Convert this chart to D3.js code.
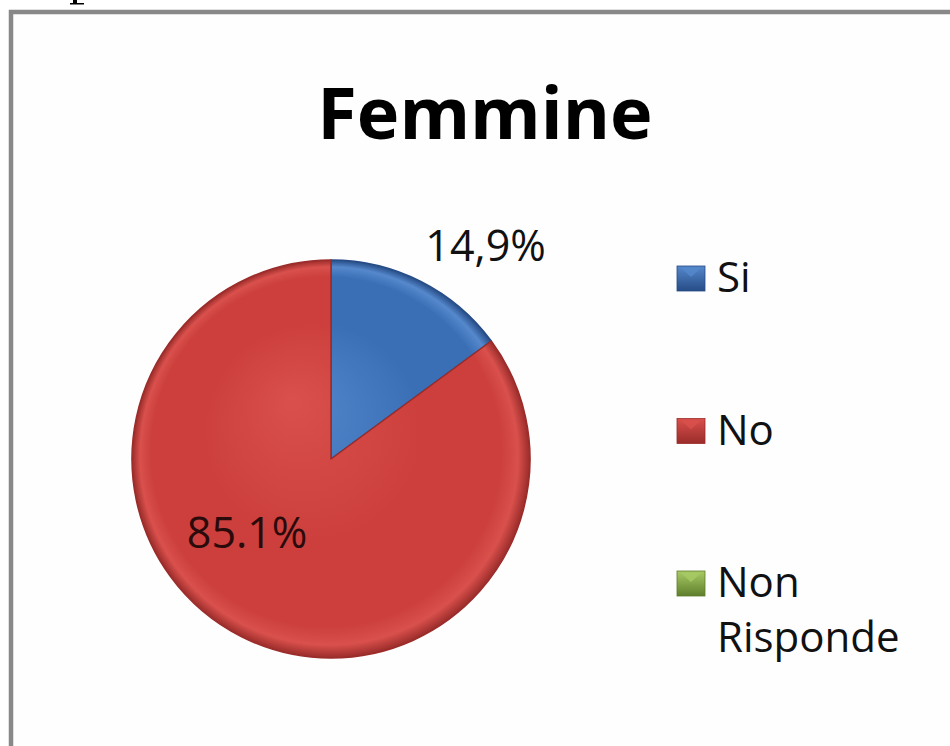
<!DOCTYPE html>
<html><head><meta charset="utf-8">
<script src="https://cdn.jsdelivr.net/npm/d3@7"></script>
<style>html,body{margin:0;padding:0;background:#fff;}svg{display:block;}</style>
</head><body>
<script>
const title = "Femmine";
const categories = ["Si", "No", "Non Risponde"];
const values = [14.9, 85.1, 0];
const labelTexts = ["14,9%", "85.1%", ""];
const legendLines = [["Si"], ["No"], ["Non", "Risponde"]];

const W = 950, H = 746;
const font = "'Open Sans', 'Noto Sans', sans-serif";
const baseColors = ["#3a6fb6", "#cc3f3c", "#8cb04a"];
const edgeColors = ["#264c86", "#9a2c2a", "#5f7e2c"];
const lightColors = ["#5588cc", "#d9504c", "#a9cb65"];

const svg = d3.select("body").append("svg").attr("width", W).attr("height", H);
const defs = svg.append("defs");

// frame
svg.append("rect").attr("x", 11).attr("y", 12).attr("width", W + 20).attr("height", H + 20)
  .attr("fill", "#fefefe").attr("stroke", "#888").attr("stroke-width", 4.5);
// fragment of a glyph from the page above (descender)
svg.append("path").attr("d", "M73,0 L77,0 L77,3 L84,3 L84,4.5 L70,4.5 L70,3 L73,3 Z").attr("fill", "#000");

// title
svg.append("text").attr("x", 485).attr("y", 139).attr("text-anchor", "middle")
  .attr("font-family", font).attr("font-weight", "bold").attr("font-size", 72)
  .attr("fill", "#000").text(title);

// pie
const cx = 331, cy = 459, R = 199;
const g = svg.append("g").attr("transform", `translate(${cx},${cy})`);
const pie = d3.pie().sort(null).value(d => d)(values);
const arc = d3.arc().innerRadius(0).outerRadius(R);

categories.forEach((c, i) => {
  const rg = defs.append("radialGradient").attr("id", "pg" + i)
    .attr("gradientUnits", "userSpaceOnUse").attr("cx", 0).attr("cy", 0).attr("r", R)
    .attr("fx", -40).attr("fy", -60);
  rg.append("stop").attr("offset", "0%").attr("stop-color", lightColors[i]);
  rg.append("stop").attr("offset", "55%").attr("stop-color", baseColors[i]);
  rg.append("stop").attr("offset", "88%").attr("stop-color", baseColors[i]);
  rg.append("stop").attr("offset", "95%").attr("stop-color", lightColors[i]);
  rg.append("stop").attr("offset", "100%").attr("stop-color", edgeColors[i]);
  const lg = defs.append("linearGradient").attr("id", "lg" + i)
    .attr("x1", 0).attr("y1", 0).attr("x2", 0).attr("y2", 1);
  lg.append("stop").attr("offset", "0%").attr("stop-color", lightColors[i]);
  lg.append("stop").attr("offset", "100%").attr("stop-color", edgeColors[i]);
});

g.selectAll("path.slice").data(pie.filter(d => d.value > 0)).join("path")
  .attr("class", "slice")
  .attr("d", arc)
  .attr("fill", d => `url(#pg${d.index})`)
  .attr("stroke", d => edgeColors[d.index])
  .attr("stroke-width", 1.5)
  .attr("stroke-linejoin", "round");

// labels: angle (deg from north, clockwise) and radius
const labelAngle = [36, 228.5];
const labelRadius = [263, 112];
pie.forEach((d, i) => {
  if (!labelTexts[i]) return;
  const a = labelAngle[i] * Math.PI / 180;
  const x = labelRadius[i] * Math.sin(a), y = -labelRadius[i] * Math.cos(a);
  g.append("text").attr("x", x).attr("y", y).attr("dy", "0.35em")
    .attr("text-anchor", "middle").attr("font-family", font).attr("font-size", 43)
    .attr("fill", i === 1 ? "#2a0a0a" : "#111").text(labelTexts[i]);
});

// legend
const legY = d3.scalePoint().domain(categories).range([292, 597]);
const leg = svg.append("g");
categories.forEach((c, i) => {
  const y = legY(c);
  leg.append("rect").attr("x", 677).attr("y", y - 26).attr("width", 28).attr("height", 25)
    .attr("fill", `url(#lg${i})`).attr("stroke", edgeColors[i]).attr("stroke-width", 0.8);
  leg.append("path")
    .attr("d", `M${681},${y - 24} L${691},${y - 15} L${701},${y - 24} Z`)
    .attr("fill", lightColors[i]).attr("opacity", 0.8);
  const t = leg.append("text").attr("x", 717).attr("y", y)
    .attr("font-family", font).attr("font-size", 42).attr("fill", "#111");
  legendLines[i].forEach((l, j) => {
    t.append("tspan").attr("x", 717).attr("dy", j === 0 ? 0 : 55).text(l);
  });
});
</script>
</body></html>
